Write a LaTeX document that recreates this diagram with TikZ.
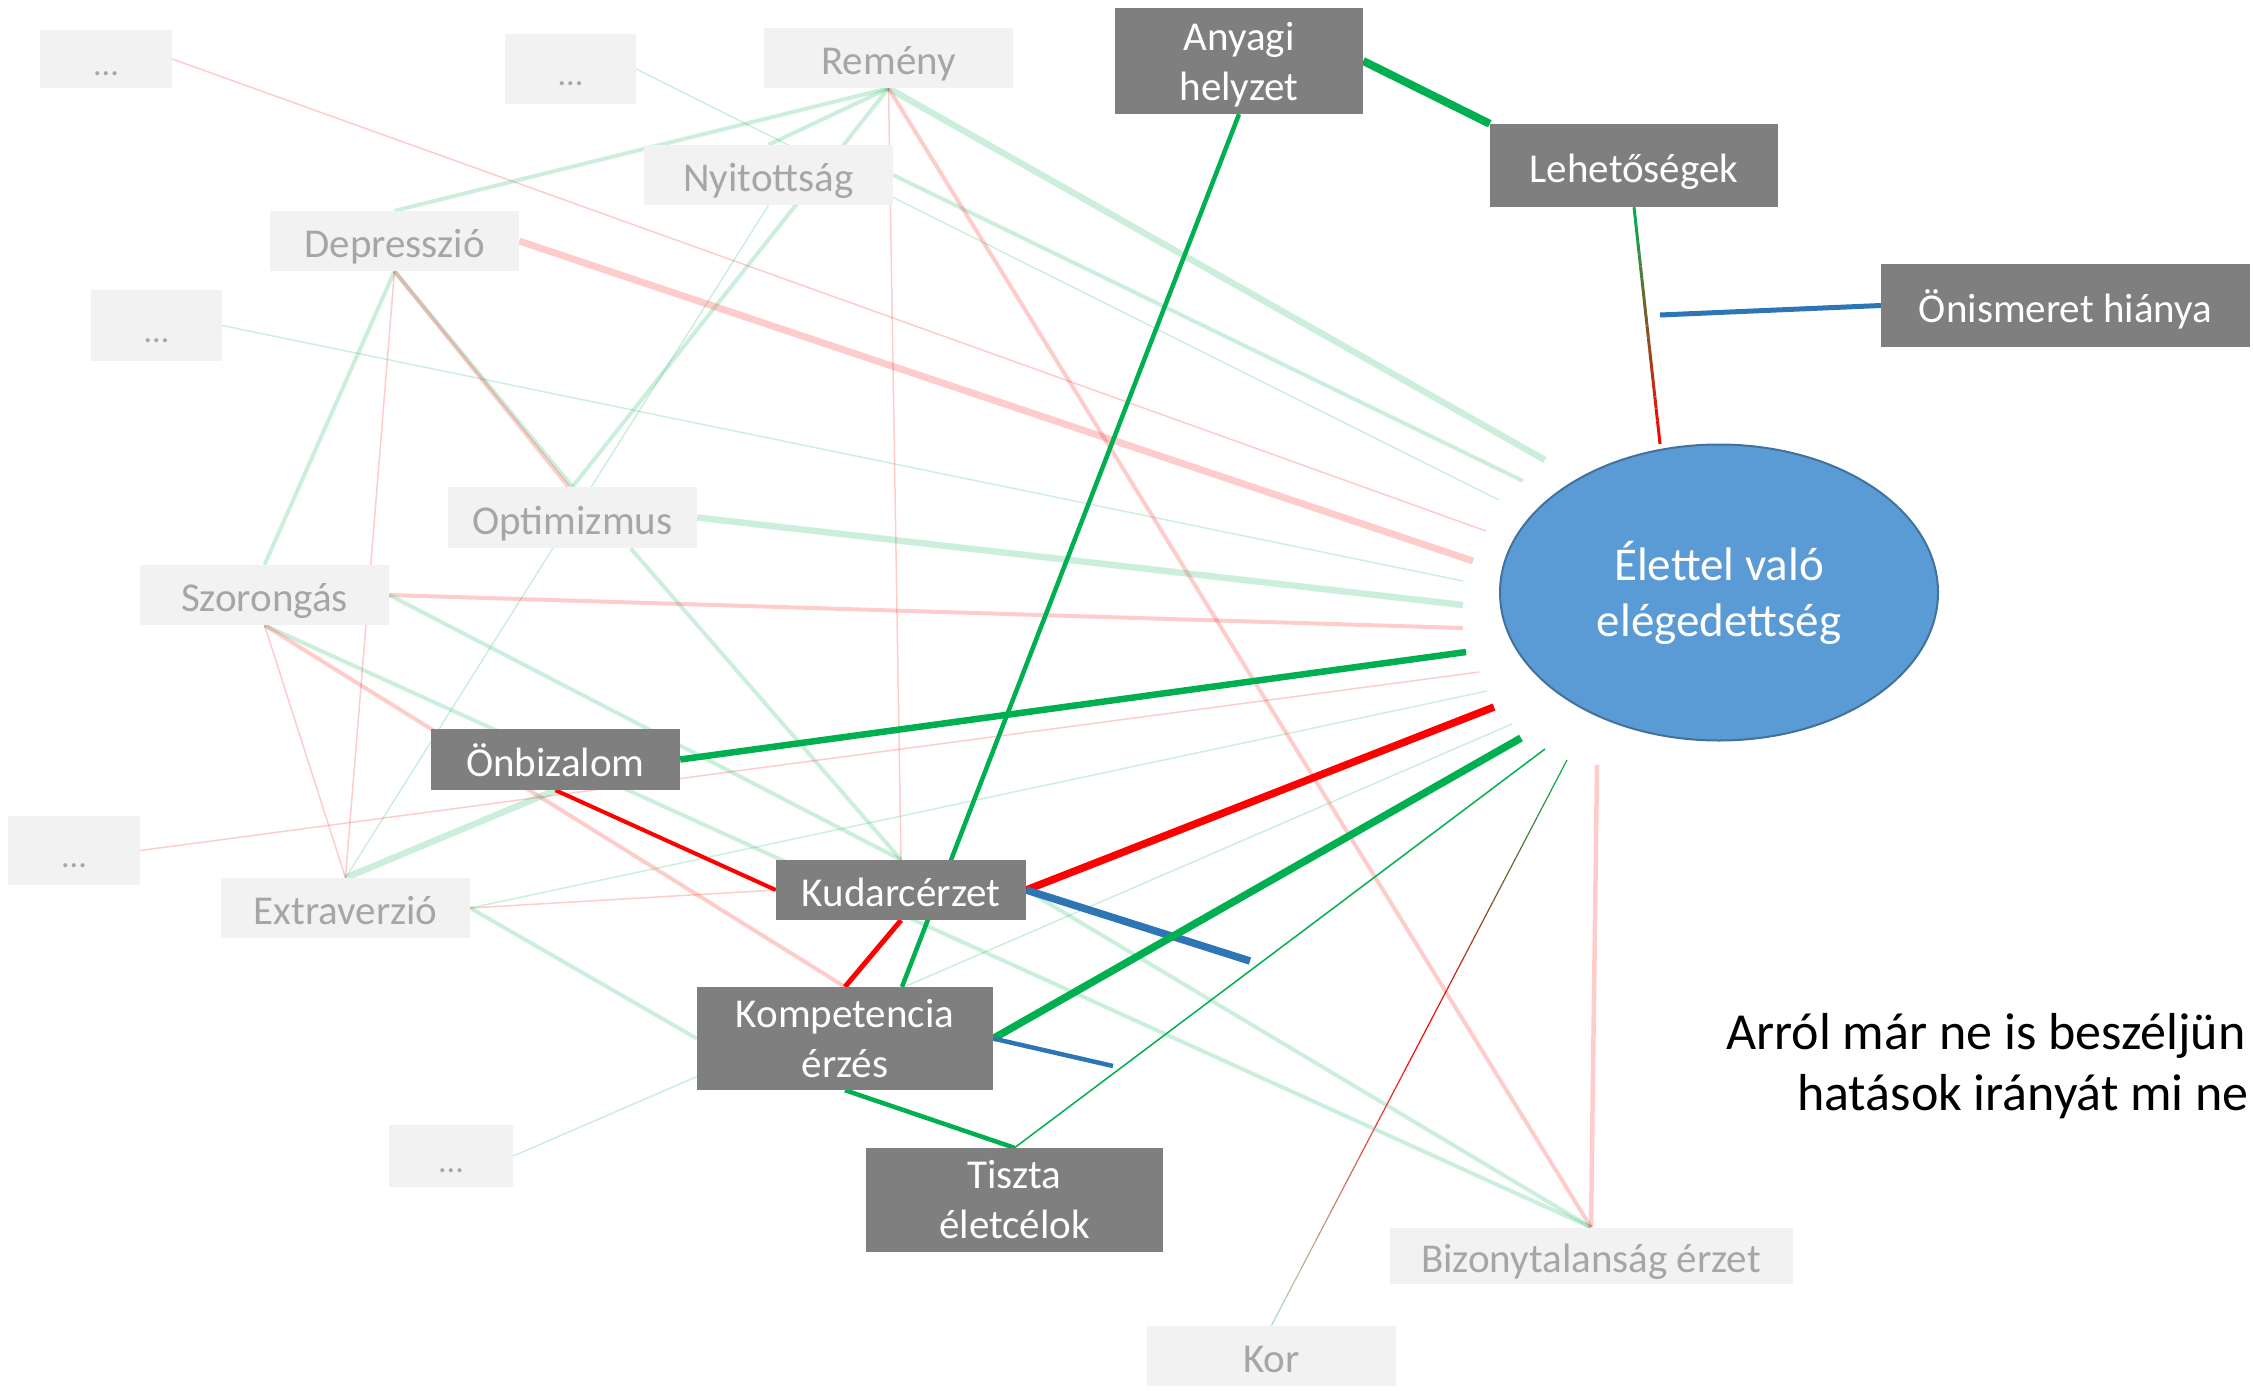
\documentclass[tikz,border=0pt]{standalone}
\usepackage{fontspec}
\setmainfont{Carlito}
\usetikzlibrary{calc,shapes.geometric}
\definecolor{dbox}{HTML}{7F7F7F}
\definecolor{lbox}{HTML}{F2F2F2}
\definecolor{ltext}{HTML}{A6A6A6}
\definecolor{gr}{HTML}{00B050}
\definecolor{rd}{HTML}{FF0000}
\definecolor{bl}{HTML}{2E75B6}
\definecolor{ellfill}{HTML}{5B9BD5}
\definecolor{elldraw}{HTML}{41719C}
\colorlet{palegr}{gr!35!white}
\pgfdeclarelayer{bg}
\pgfsetlayers{bg,main}
\begin{document}
\begin{tikzpicture}[x=1pt,y=-1pt,
 darkbox/.style={fill=dbox, text=white, inner sep=0pt, align=center, font=\fontsize{41}{50}\selectfont},
 lightbox/.style={fill=lbox, text=ltext, inner sep=0pt, align=center, font=\fontsize{41}{50}\selectfont},
 oneline/.style={text height=33pt, text depth=0pt},
 dotsbox/.style={lightbox, oneline, font=\fontsize{34}{40}\selectfont},
 lg/.style={draw=gr, draw opacity=0.2},
 lr/.style={draw=rd, draw opacity=0.2},
 wA/.style={line width=1.5pt},
 wB/.style={line width=4pt},
 wC/.style={line width=6.5pt}]
\useasboundingbox (0,0) rectangle (2253,1390);

% nodes
\node[dotsbox, minimum width=132pt, minimum height=58pt] (d1) at (106,59) {...};
\node[dotsbox, minimum width=131pt, minimum height=70pt] (d2) at (570.5,69) {...};
\node[lightbox, oneline, minimum width=249pt, minimum height=60pt] (remeny) at (888.5,58) {Remény};
\node[lightbox, oneline, minimum width=249pt, minimum height=60pt] (nyit) at (768.5,175) {Nyitottság};
\node[lightbox, oneline, minimum width=249pt, minimum height=60pt] (depr) at (394.5,241) {Depresszió};
\node[dotsbox, minimum width=131pt, minimum height=71pt] (d3) at (156.5,325.5) {...};
\node[lightbox, oneline, minimum width=249pt, minimum height=61pt] (optim) at (572.5,517.5) {Optimizmus};
\node[lightbox, oneline, minimum width=249pt, minimum height=60pt] (szor) at (264.5,595) {Szorongás};
\node[dotsbox, minimum width=132pt, minimum height=69pt] (d4) at (74,850.5) {...};
\node[darkbox, oneline, minimum width=249pt, minimum height=61pt] (onbiz) at (555.5,759.5) {Önbizalom};
\node[lightbox, oneline, minimum width=249pt, minimum height=60pt] (extra) at (345.5,908) {Extraverzió};
\node[darkbox, oneline, minimum width=250pt, minimum height=60pt] (kudarc) at (901,890) {Kudarcérzet};
\node[darkbox, minimum width=296pt, minimum height=103pt] (kompet) at (845,1038.5) {Kompetencia\\érzés};
\node[dotsbox, minimum width=124pt, minimum height=62pt] (d5) at (451,1156) {...};
\node[darkbox, minimum width=297pt, minimum height=104pt] (tiszta) at (1014.5,1200) {Tiszta\\életcélok};
\node[darkbox, text depth=-3pt, minimum width=248pt, minimum height=106pt] (anyagi) at (1239,61) {Anyagi\\helyzet};
\node[darkbox, oneline, minimum width=288pt, minimum height=83pt] (lehet) at (1634,165.5) {Lehetőségek};
\node[darkbox, oneline, minimum width=369pt, minimum height=83pt] (onism) at (2065.5,305.5) {Önismeret hiánya};
\node[lightbox, oneline, minimum width=403pt, minimum height=56pt] (bizony) at (1591,1255.5) {Bizonytalanság érzet};
\node[lightbox, oneline, minimum width=249pt, minimum height=60pt] (kor) at (1271.5,1355.5) {Kor};
\node[ellipse, draw=elldraw, line width=2pt, fill=ellfill, text=white, inner sep=0pt,
      minimum width=438pt, minimum height=296pt, align=center,
      font=\fontsize{47}{56}\selectfont] (elet) at (1719,592.5) {Élettel való\\elégedettség};
\node[anchor=base west, inner sep=0pt, font=\fontsize{52}{63}\selectfont] (note1) at (1726,1049) {Arról már ne is beszéljün};
\node[anchor=base west, inner sep=0pt, font=\fontsize{52}{63}\selectfont] (note2) at (1797,1110) {hatások irányát mi ne};

% free ends near the ellipse
\coordinate (erem) at (1545,460);
\coordinate (enyit) at (1523,481);
\coordinate (ed2) at (1499,500);
\coordinate (ed1) at (1486,531);
\coordinate (edepr) at (1473,561);
\coordinate (ed3) at (1463,581);
\coordinate (eopt) at (1463,605);
\coordinate (eszor) at (1463,628);
\coordinate (eonb) at (1466,652);
\coordinate (ed4) at (1479,672);
\coordinate (eext) at (1487,691);
\coordinate (ekud) at (1494,707);
\coordinate (ed5) at (1512,724);
\coordinate (ekomp) at (1521,738);
\coordinate (etis) at (1545,749);
\coordinate (ekor) at (1567,760);
\coordinate (ebiz) at (1597,765);
\coordinate (eleh) at (1660,444);
\coordinate (bl1) at (1250,961);
\coordinate (bl2) at (1113,1066);
\coordinate (bl3) at (1660,315);

\begin{pgfonlayer}{bg}
% faint connectors
\draw[lg,wC] (remeny.south) -- (erem);
\draw[lg,wB] (remeny.south) -- (depr.north);
\draw[lg,wB] (remeny.south) -- (nyit.north);
\draw[lg,wB] (remeny.south) -- (optim.north);
\draw[lr,wA] (remeny.south) -- (kudarc.north);
\draw[lr,wB] (remeny.south) -- (bizony.north);
\draw[lg,wA] (d2.east) -- (ed2);
\draw[lg,wB] (nyit.east) -- (enyit);
\draw[lg,wA] (nyit.south) -- (extra.north);
\draw[lr,wA] (d1.east) -- (ed1);
\draw[lr,line width=7pt] (depr.east) -- (edepr);
\draw[lg,wB] (depr.south) -- (optim.north);
\draw[lr,wB] (depr.south) -- ([xshift=-4pt]optim.north);
\draw[lg,wB] (depr.south) -- (szor.north);
\draw[lr,wA] (depr.south) -- (extra.north);
\draw[lg,wA] (d3.east) -- (ed3);
\draw[lg,wC] (optim.east) -- (eopt);
\draw[lg,wB] ([xshift=58pt]optim.south) -- (kudarc.north);
\draw[lr,wB] (szor.east) -- (eszor);
\draw[lg,wB] (szor.east) -- (kudarc.north);
\draw[lg,wB] (szor.south) -- (bizony.north);
\draw[lr,wA] (szor.south) -- (extra.north);
\draw[lr,wB] (szor.south) -- (kompet.north);
\draw[lr,wA] (d4.east) -- (ed4);
\draw[lg,wC] (extra.north) -- (onbiz.south);
\draw[lg,wA] (extra.east) -- (eext);
\draw[lr,wA] (extra.east) -- (kudarc.west);
\draw[lg,wB] (extra.east) -- (kompet.west);
\draw[lg,wB] (kudarc.east) -- (bizony.north);
\draw[lg,wA] (d5.east) -- (ed5);
\draw[lr,line width=4.5pt] (bizony.north) -- (ebiz);
% strong connectors
\draw[gr,line width=6.5pt] (onbiz.east) -- (eonb);
\draw[rd,line width=4pt] (onbiz.south) -- (kudarc.west);
\draw[rd,line width=7.5pt] (kudarc.east) -- (ekud);
\draw[bl,line width=7.5pt] (kudarc.east) -- (bl1);
\draw[rd,line width=5pt] (kudarc.south) -- (kompet.north);
\draw[gr,line width=4.5pt] (anyagi.south) -- ([xshift=57pt]kompet.north);
\draw[gr,line width=7.5pt] (kompet.east) -- (ekomp);
\draw[bl,line width=4.5pt] (kompet.east) -- (bl2);
\draw[gr,line width=4.5pt] (kompet.south) -- (tiszta.north);
\draw[gr,line width=1.5pt] (tiszta.north) -- (etis);
\draw[gr,line width=8pt] (anyagi.east) -- (lehet.north west);
\draw[bl,line width=5pt] (onism.west) -- (bl3);
% gradient: Lehetőségek -> ellipse
\foreach \i in {0,...,19} {
  \pgfmathsetmacro\ta{\i/20}
  \pgfmathsetmacro\tb{(\i+1)/20}
  \pgfmathtruncatemacro\p{97-5*\i}
  \draw[line width=3pt, color=gr!\p!rd] ($(lehet.south)!\ta!(eleh)$) -- ($(lehet.south)!\tb!(eleh)$);
}
% gradient: Kor -> ellipse
\foreach \i in {0,...,9} {
  \pgfmathsetmacro\ta{\i/20}
  \pgfmathsetmacro\tb{(\i+1)/20}
  \pgfmathtruncatemacro\p{10*\i+5}
  \draw[line width=1.2pt, color=rd!\p!palegr] ($(kor.north)!\ta!(ekor)$) -- ($(kor.north)!\tb!(ekor)$);
}
\foreach \i in {10,...,19} {
  \pgfmathsetmacro\ta{\i/20}
  \pgfmathsetmacro\tb{(\i+1)/20}
  \pgfmathtruncatemacro\p{10*(\i-10)+5}
  \draw[line width=1.2pt, color=gr!\p!rd] ($(kor.north)!\ta!(ekor)$) -- ($(kor.north)!\tb!(ekor)$);
}
\end{pgfonlayer}
\end{tikzpicture}
\end{document}
